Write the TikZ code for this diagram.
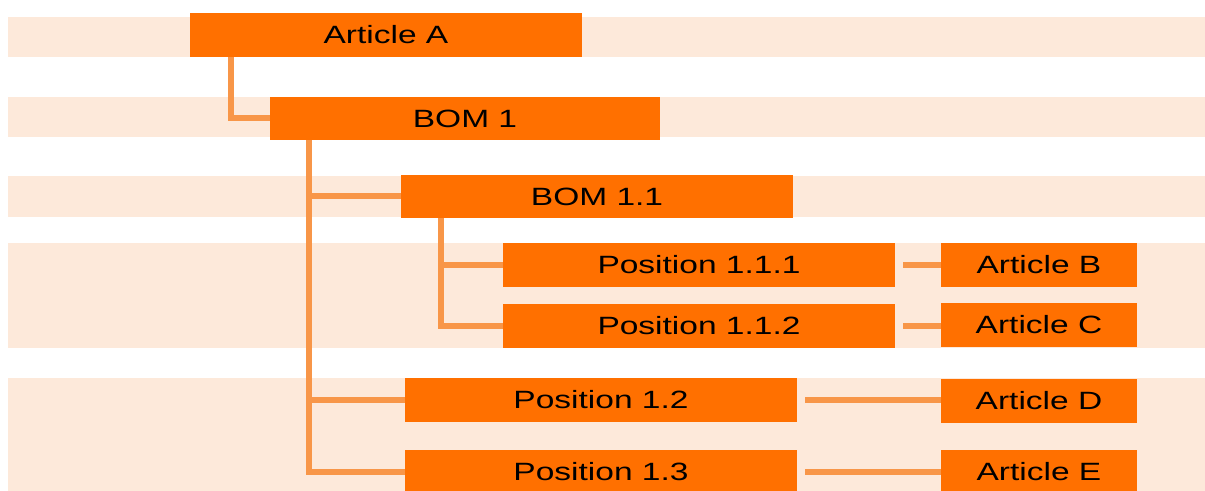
\documentclass[tikz,border=0pt]{standalone}
\usepackage{fontspec}
\setmainfont{Liberation Sans}[FakeStretch=1.34]
\usetikzlibrary{calc}
\definecolor{boxorange}{RGB}{255,112,0}
\definecolor{bandpeach}{RGB}{253,233,218}
\definecolor{lineorange}{RGB}{248,150,72}
\tikzset{
  box/.style={fill=boxorange, draw=none, inner sep=0pt, minimum height=44\pxu, text=black,
    font=\fontsize{18.75}{22}\selectfont},
  widebox/.style={box, minimum width=392\pxu},
  artbox/.style={box, minimum width=196\pxu},
  band/.style={fill=bandpeach, draw=none},
  conn/.style={draw=lineorange, line width=4.5pt}
}
\newlength{\pxu}
\setlength{\pxu}{0.75pt}
\begin{document}
\begin{tikzpicture}[x=0.75pt, y=-0.75pt]
\useasboundingbox (0,0) rectangle (1205,491);
% bands
\fill[band] (8,17) rectangle (1205,57);
\fill[band] (8,97) rectangle (1205,137);
\fill[band] (8,176) rectangle (1205,217);
\fill[band] (8,243) rectangle (1205,348);
\fill[band] (8,378) rectangle (1205,491);
% nodes
\node[widebox] (A) at (386,35) {Article A};
\node[box, minimum width=390\pxu, minimum height=43\pxu] (B1) at (465,118.5) {BOM 1};
\node[widebox, minimum height=43\pxu] (B11) at (597,196.5) {BOM 1.1};
\node[widebox] (P111) at (699,265) {Position 1.1.1};
\node[widebox] (P112) at (699,326) {Position 1.1.2};
\node[widebox] (P12) at (601,400) {Position 1.2};
\node[widebox] (P13) at (601,472) {Position 1.3};
\node[artbox] (AB) at (1039,265) {Article B};
\node[artbox] (AC) at (1039,325) {Article C};
\node[artbox] (AD) at (1039,401) {Article D};
\node[artbox] (AE) at (1039,472) {Article E};
% connectors
\draw[conn] ([shift={(41,0)}]A.south west) |- (B1.west);
\draw[conn] ([shift={(39,0)}]B1.south west) |- (P13.west);
\draw[conn] ([shift={(39,0)}]B1.south west) |- (B11.west);
\draw[conn] ([shift={(39,0)}]B1.south west) |- (P12.west);
\draw[conn] ([shift={(40,0)}]B11.south west) |- (P112.west);
\draw[conn] ([shift={(40,0)}]B11.south west) |- (P111.west);
\draw[conn] ([shift={(8,0)}]P111.east) -- (AB.west);
\draw[conn] ([shift={(8,0)}]P112.east) -- (AC.west |- P112.east);
\draw[conn] ([shift={(8,0)}]P12.east) -- (AD.west |- P12.east);
\draw[conn] ([shift={(8,0)}]P13.east) -- (AE.west);
\end{tikzpicture}
\end{document}
